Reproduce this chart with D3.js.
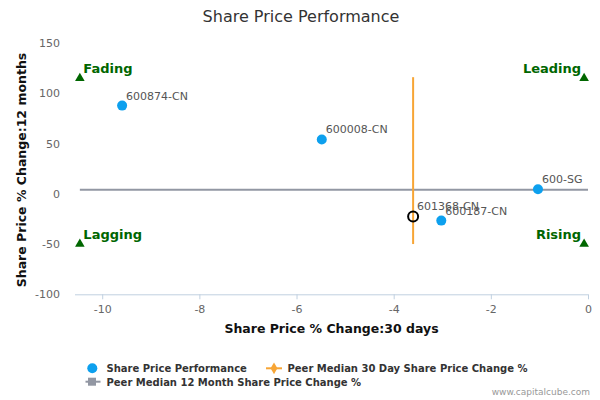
<!DOCTYPE html>
<html><head><meta charset="utf-8">
<script src="https://cdn.jsdelivr.net/npm/d3@7/dist/d3.min.js"></script>
<style>body{margin:0;background:#fff;font-family:"DejaVu Sans",sans-serif;}</style>
</head><body>
<svg id="c" width="600" height="400"></svg>
<script>
const names = ["600874-CN","600008-CN","600-SG","600187-CN","601368-CN"];
const change30 = [-9.59, -5.48, -1.03, -3.02, -3.6];
const change12 = [87.7, 54, 4.5, -26.7, -22.5];
const isSubject = [false, false, false, false, true];
const peerMedian30 = -3.6;
const peerMedian12 = 4.1;
const peer30Range = [-50, 116];
const peer12Range = [-10.46, 0];
const quadrants = [
  {name:"Fading", x:-10.46, y:115, side:"left"},
  {name:"Leading", x:-0.08, y:115, side:"right"},
  {name:"Lagging", x:-10.46, y:-50, side:"left"},
  {name:"Rising", x:-0.08, y:-50, side:"right"}
];
const xTicks = [-10,-8,-6,-4,-2,0];
const yTicks = [-100,-50,0,50,100,150];

const svg = d3.select("#c");
const x = d3.scaleLinear().domain([-10.56, 0]).range([75, 588]);
const y = d3.scaleLinear().domain([-100, 150]).range([294.3, 43]);
const fmt = d => String(d);

svg.append("text").attr("x",301).attr("y",21.5).attr("text-anchor","middle")
  .attr("font-size",16).attr("fill","#333").text("Share Price Performance");

// x axis
const xa = svg.append("g").attr("transform","translate(0,294.3)")
  .call(d3.axisBottom(x).tickValues(xTicks).tickSize(5).tickPadding(6).tickFormat(fmt));
xa.select(".domain").attr("stroke","#C0D0E0").attr("d","M75,0.5H588");
xa.selectAll(".tick line").attr("stroke","#C0D0E0");
xa.selectAll("text").attr("fill","#666").attr("font-size",11).attr("font-family","DejaVu Sans");

// y axis labels
const ya = svg.append("g").attr("transform","translate(60,0)")
  .call(d3.axisLeft(y).tickValues(yTicks).tickSize(0).tickPadding(0).tickFormat(fmt));
ya.select(".domain").remove();
ya.selectAll("text").attr("fill","#666").attr("font-size",11).attr("font-family","DejaVu Sans");

svg.append("text").attr("x",331.5).attr("y",333).attr("text-anchor","middle")
  .attr("font-size",12.5).attr("font-weight","bold").attr("fill","#111").text("Share Price % Change:30 days");
svg.append("text").attr("transform","translate(26,170) rotate(-90)").attr("text-anchor","middle")
  .attr("font-size",12.5).attr("font-weight","bold").attr("fill","#111").text("Share Price % Change:12 months");

// peer median lines
svg.append("line").attr("x1",x(peer12Range[0])).attr("x2",x(peer12Range[1]))
  .attr("y1",y(peerMedian12)).attr("y2",y(peerMedian12)).attr("stroke","#9297A3").attr("stroke-width",2);
svg.append("line").attr("x1",x(peerMedian30)).attr("x2",x(peerMedian30))
  .attr("y1",y(peer30Range[0])).attr("y2",y(peer30Range[1])).attr("stroke","#F7A535").attr("stroke-width",2);

// points
const pts = names.map((n,i)=>({n, x:change30[i], y:change12[i], s:isSubject[i]}));
svg.selectAll("circle.p").data(pts).enter().append("circle")
  .attr("cx",d=>x(d.x)).attr("cy",d=>y(d.y)).attr("r",5)
  .attr("fill",d=>d.s?"none":"#0DA0EE").attr("stroke",d=>d.s?"#000":"none").attr("stroke-width",2);
svg.selectAll("text.pl").data(pts).enter().append("text")
  .attr("x",d=>x(d.x)+4).attr("y",d=>y(d.y)-6).attr("font-size",11).attr("fill","#555")
  .text(d=>d.n);

// quadrants
quadrants.forEach(q=>{
  const cx = x(q.x), cy = y(q.y);
  svg.append("path").attr("d",d3.symbol(d3.symbolTriangle, 40)()).attr("transform",`translate(${cx},${cy})`).attr("fill","#006600");
  svg.append("text").attr("x", q.side==="left"? cx+3.5 : cx-3).attr("y", cy-5.5)
    .attr("text-anchor", q.side==="left"?"start":"end").attr("font-size",13).attr("font-weight","bold")
    .attr("fill","#006600").text(q.name);
});

// legend
const lg = svg.append("g").attr("font-size",10).attr("font-weight","bold").attr("fill","#333");
lg.append("circle").attr("cx",92.3).attr("cy",368.3).attr("r",5).attr("fill","#0DA0EE");
lg.append("text").attr("x",106.5).attr("y",372).text("Share Price Performance");
lg.append("line").attr("x1",266).attr("x2",282).attr("y1",368.3).attr("y2",368.3).attr("stroke","#F7A535").attr("stroke-width",2);
lg.append("path").attr("d",d3.symbol(d3.symbolDiamond,40)()).attr("transform","translate(274,368.3)").attr("fill","#F7A535");
lg.append("text").attr("x",287.5).attr("y",372).text("Peer Median 30 Day Share Price Change %");
lg.append("line").attr("x1",85.5).attr("x2",100.5).attr("y1",381.7).attr("y2",381.7).attr("stroke","#9297A3").attr("stroke-width",2);
lg.append("rect").attr("x",88).attr("y",377.7).attr("width",8).attr("height",8).attr("fill","#9297A3");
lg.append("text").attr("x",106.5).attr("y",385.5).text("Peer Median 12 Month Share Price Change %");

svg.append("text").attr("x",590).attr("y",395).attr("text-anchor","end").attr("font-size",9).attr("fill","#999").text("www.capitalcube.com");
</script>
</body></html>
